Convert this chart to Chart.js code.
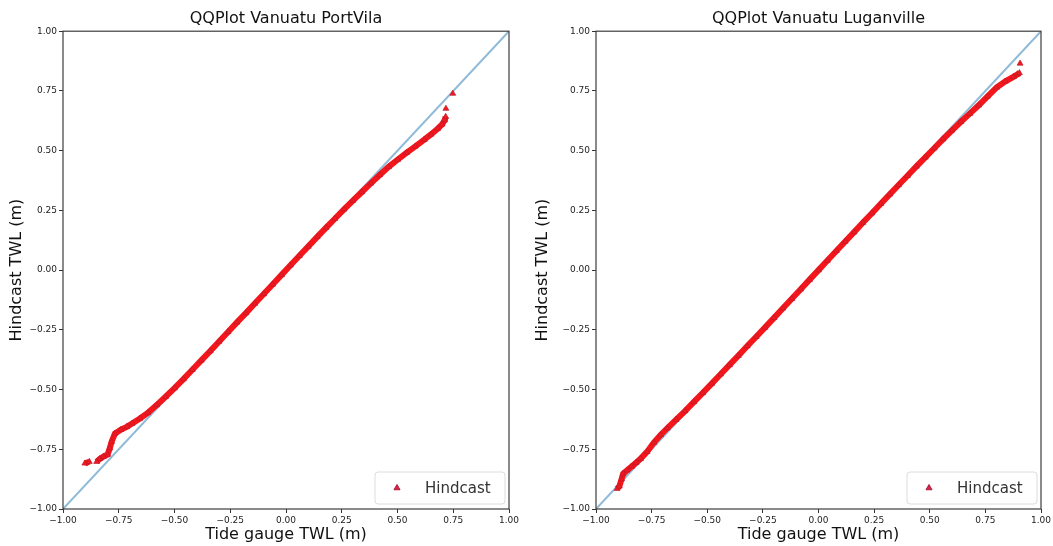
<!DOCTYPE html>
<html><head><meta charset="utf-8">
<script src="https://cdn.jsdelivr.net/npm/chart.js@4"></script>
<style>
html,body{margin:0;padding:0;background:#fff;}
#wrap{position:relative;width:1053px;height:546px;overflow:hidden;}
canvas{position:absolute;top:0;}
</style></head><body>
<div id="wrap">
<canvas id="c1" width="526" height="546" style="left:0"></canvas>
<canvas id="c2" width="527" height="546" style="left:526px"></canvas>
</div>
<script>
const tickValues = [-1, -0.75, -0.5, -0.25, 0, 0.25, 0.5, 0.75, 1];
const tickLabels = ['\u22121.00','\u22120.75','\u22120.50','\u22120.25','0.00','0.25','0.50','0.75','1.00'];
const titles = ['QQPlot Vanuatu PortVila', 'QQPlot Vanuatu Luganville'];
const xTitle = 'Tide gauge TWL (m)';
const yTitle = 'Hindcast TWL (m)';
const seriesLabel = 'Hindcast';
const refX = [-1, 1];
const refY = [-1, 1];

const portVilaX = [-0.902,-0.882,null,-0.849,-0.835,-0.819,-0.800,-0.790,-0.782,-0.767,-0.740,-0.714,-0.690,-0.655,-0.620,-0.580,-0.540,-0.500,-0.460,-0.420,-0.380,-0.340,-0.300,-0.260,-0.220,-0.180,-0.140,-0.100,-0.060,-0.020,0.020,0.060,0.100,0.140,0.180,0.220,0.260,0.300,0.340,0.380,0.420,0.460,0.500,0.540,0.580,0.620,0.650,0.680,0.700,0.712,0.716,null,0.717,null,0.748];
const portVilaY = [-0.809,-0.802,null,-0.802,-0.790,-0.781,-0.772,-0.745,-0.718,-0.684,-0.668,-0.656,-0.642,-0.621,-0.598,-0.565,-0.530,-0.494,-0.456,-0.417,-0.378,-0.339,-0.299,-0.259,-0.219,-0.180,-0.140,-0.100,-0.060,-0.020,0.020,0.060,0.099,0.139,0.178,0.216,0.254,0.291,0.327,0.363,0.398,0.432,0.462,0.491,0.518,0.546,0.568,0.592,0.610,0.628,0.642,null,0.676,null,0.739];

const luganvilleX = [-0.905,-0.895,-0.885,-0.878,-0.860,-0.840,-0.820,-0.800,-0.770,-0.740,-0.710,-0.680,-0.640,-0.600,-0.560,-0.520,-0.480,-0.440,-0.400,-0.360,-0.320,-0.280,-0.240,-0.200,-0.160,-0.120,-0.080,-0.040,0.000,0.040,0.080,0.120,0.160,0.200,0.240,0.280,0.320,0.360,0.400,0.440,0.480,0.520,0.560,0.600,0.640,0.680,0.720,0.760,0.800,0.840,0.876,0.895,0.903,null,0.906];
const luganvilleY = [-0.915,-0.905,-0.875,-0.852,-0.838,-0.822,-0.806,-0.790,-0.760,-0.722,-0.690,-0.662,-0.626,-0.590,-0.552,-0.514,-0.475,-0.436,-0.397,-0.358,-0.318,-0.279,-0.240,-0.200,-0.160,-0.120,-0.080,-0.040,0.000,0.040,0.080,0.120,0.159,0.199,0.238,0.278,0.317,0.356,0.395,0.434,0.472,0.510,0.548,0.585,0.621,0.655,0.690,0.727,0.764,0.790,0.809,0.820,0.825,null,0.865];

const FONT = '"DejaVu Sans", "Liberation Sans", sans-serif';

function toPoints(xs, ys) {
  return xs.map((x, i) => ({x: x, y: ys[i]}));
}

const framePlugin = {
  id: 'frame',
  afterDatasetsDraw(chart) {
    const {ctx, chartArea: a} = chart;
    ctx.save();
    ctx.strokeStyle = '#3c3c3c';
    ctx.lineWidth = 1.2;
    ctx.strokeRect(a.left, a.top, a.right - a.left, a.bottom - a.top);
    ctx.restore();
  }
};

const legendPlugin = {
  id: 'legendBox',
  afterDraw(chart) {
    const {ctx, chartArea: a} = chart;
    const w = 130, h = 32;
    const x = a.right - 4 - w, y = a.bottom - 5 - h;
    ctx.save();
    ctx.beginPath();
    ctx.roundRect(x, y, w, h, 3);
    ctx.fillStyle = 'rgba(255,255,255,0.85)';
    ctx.fill();
    ctx.strokeStyle = '#dcdcdc';
    ctx.lineWidth = 1;
    ctx.stroke();
    const ds = chart.data.datasets[0];
    ctx.fillStyle = '#e0204a';
    ctx.strokeStyle = '#a8203c';
    Chart.helpers.drawPoint(ctx, {pointStyle: 'triangle', radius: 3.5, rotation: 0, borderWidth: 0.8}, x + 22, y + h / 2);
    ctx.fillStyle = '#333';
    ctx.font = '15px ' + FONT;
    ctx.textBaseline = 'middle';
    ctx.textAlign = 'left';
    ctx.fillText(ds.label, x + 50, y + h / 2 + 1);
    ctx.restore();
  }
};

function tickLabel(v) {
  for (let i = 0; i < tickValues.length; i++) {
    if (Math.abs(tickValues[i] - v) < 1e-6) return tickLabels[i];
  }
  return '';
}

function makeChart(id, title, xs, ys, yWidth, padRight) {
  const axisCommon = {
    type: 'linear', min: -1, max: 1,
    border: {display: false},
    grid: {display: true, drawOnChartArea: false, drawTicks: true, tickLength: 4, color: '#333', lineWidth: 1},
    afterBuildTicks: s => { s.ticks = tickValues.map(v => ({value: v})); }
  };
  return new Chart(document.getElementById(id), {
    type: 'scatter',
    data: {
      datasets: [
        {
          label: seriesLabel,
          data: toPoints(xs, ys),
          showLine: true,
          spanGaps: false,
          borderColor: '#f4161a',
          borderWidth: 6,
          pointStyle: 'triangle',
          pointRadius: 3.4,
          pointBackgroundColor: '#f01a1e',
          pointBorderColor: '#c0182e',
          pointBorderWidth: 0.7,
          order: 0
        },
        {
          label: 'ref',
          data: toPoints(refX, refY),
          showLine: true,
          borderColor: 'rgba(31,119,180,0.5)',
          borderWidth: 2,
          pointRadius: 0,
          order: 1
        }
      ]
    },
    options: {
      responsive: false,
      animation: false,
      layout: {padding: {left: 0, right: padRight, top: 0, bottom: 0}},
      plugins: {
        legend: {display: false},
        tooltip: {enabled: false},
        title: {
          display: true, text: title, fullSize: false,
          font: {size: 16, family: FONT, weight: 'normal'},
          color: '#111',
          padding: {top: 9, bottom: 3}
        }
      },
      scales: {
        x: Object.assign({}, axisCommon, {
          position: 'bottom',
          ticks: {autoSkip: false, maxRotation: 0, minRotation: 0, padding: 2, color: '#222', font: {size: 9, family: FONT}, callback: v => tickLabel(v)},
          title: {display: true, text: xTitle, color: '#111', font: {size: 16, family: FONT}, padding: {top: 0, bottom: 2}},
          afterFit: s => { s.height = 37; s.paddingLeft = 0; s.paddingRight = 0; }
        }),
        y: Object.assign({}, axisCommon, {
          position: 'left',
          ticks: {autoSkip: false, padding: 2, color: '#222', font: {size: 9, family: FONT}, callback: v => tickLabel(v)},
          title: {display: true, text: yTitle, color: '#111', font: {size: 16, family: FONT}, padding: {top: 7, bottom: 0}},
          afterFit: s => { s.width = yWidth; s.paddingTop = 0; s.paddingBottom = 0; }
        })
      }
    },
    plugins: [framePlugin, legendPlugin]
  });
}

makeChart('c1', titles[0], portVilaX, portVilaY, 63, 17);
makeChart('c2', titles[1], luganvilleX, luganvilleY, 70, 12);
</script>
</body></html>
